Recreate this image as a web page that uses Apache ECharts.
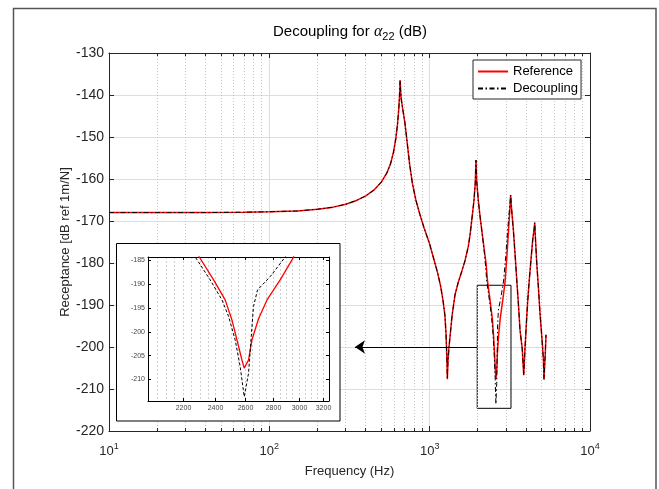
<!DOCTYPE html>
<html><head><meta charset="utf-8">
<script src="https://cdn.jsdelivr.net/npm/echarts@6/dist/echarts.min.js"></script>
<style>html,body{margin:0;padding:0;background:#fff}#c{width:659px;height:489px}</style>
</head><body><div id="c"></div>
<script>
// ---- data ----
const refFreq = [10,20,40,70,100,150,200,250,300,350,400,450,500,540,570,595,615,630,642,650,654,658,665,680,700,720,750,780,820,870,920,1000,1060,1120,1170,1210,1245,1265,1280,1289,1300,1320,1340,1380,1440,1510,1585,1660,1743,1790,1830,1860,1890,1925,1945,1965,2010,2060,2112,2180,2246,2295,2385,2460,2505,2539,2573,2589,2619,2643,2691,2752,2851,2950,3030,3100,3160,3200,3240,3327,3410,3493,3580,3659,3780,3861,3930,3990,4080,4182,4290,4392,4480,4522,4560,4654,4770,4878,5050,5120,5165,5262,5317];
const refDb = [-168.0,-168.0,-168.0,-167.9,-167.8,-167.6,-167.2,-166.7,-166.0,-165.1,-164.0,-162.6,-160.7,-158.6,-156.4,-153.6,-150.4,-147.0,-143.2,-139.5,-136.5,-138.5,-141.0,-143.5,-146.5,-150.5,-156.5,-161.0,-165.0,-168.5,-171.5,-175.5,-179.0,-182.3,-185.5,-188.8,-192.5,-197.0,-202.5,-207.7,-203.5,-200.0,-197.5,-192.5,-187.5,-184.5,-182.0,-179.5,-176.0,-173.0,-169.8,-167.5,-165.0,-161.0,-155.5,-160.5,-165.0,-168.8,-172.1,-176.3,-180.0,-184.3,-189.1,-193.3,-197.5,-201.7,-205.9,-207.6,-205.9,-201.7,-197.2,-193.3,-189.1,-184.6,-178.5,-172.5,-167.5,-163.8,-167.0,-172.1,-178.0,-184.0,-190.0,-195.9,-200.5,-206.7,-200.5,-195.9,-189.5,-184.0,-179.0,-174.5,-172.0,-170.4,-173.5,-180.0,-186.0,-192.0,-199.5,-203.0,-207.7,-201.5,-197.1];
const decFreq = [10,20,40,70,100,150,200,250,300,350,400,450,500,540,570,595,615,630,642,650,654,658,665,680,700,720,750,780,820,870,920,1000,1060,1120,1170,1210,1245,1265,1280,1289,1300,1320,1340,1380,1440,1510,1585,1660,1743,1790,1830,1860,1890,1925,1945,1965,2010,2060,2112,2180,2230,2270,2363,2439,2483,2527,2561,2589,2619,2654,2683,2776,2890,2980,3060,3140,3200,3240,3327,3410,3493,3580,3659,3780,3861,3930,3990,4080,4182,4290,4392,4480,4522,4560,4654,4770,4878,5050,5120,5165,5262,5317];
const decDb = [-168.0,-168.0,-168.0,-167.9,-167.8,-167.6,-167.2,-166.7,-166.0,-165.1,-164.0,-162.6,-160.7,-158.6,-156.4,-153.6,-150.4,-147.0,-143.2,-139.5,-136.5,-138.5,-141.0,-143.5,-146.5,-150.5,-156.5,-161.0,-165.0,-168.5,-171.5,-175.5,-179.0,-182.3,-185.5,-188.8,-192.5,-197.0,-202.5,-207.7,-203.5,-200.0,-197.5,-192.5,-187.5,-184.5,-182.0,-179.5,-176.0,-173.0,-169.8,-167.5,-165.0,-161.0,-155.5,-160.5,-165.0,-168.8,-172.1,-176.5,-180.5,-184.3,-189.1,-193.3,-196.8,-201.7,-207.3,-213.6,-208.7,-194.7,-191.2,-188.4,-184.3,-178.5,-172.5,-167.5,-163.8,-167.0,-172.1,-178.0,-184.0,-190.0,-195.9,-200.5,-206.7,-200.5,-195.9,-189.5,-184.0,-179.0,-174.5,-172.0,-170.4,-173.5,-180.0,-186.0,-192.0,-199.5,-203.0,-207.7,-201.5,-197.1];
const seriesNames = ['Reference','Decoupling'];
const minorTicks = [20,30,40,50,60,70,80,90,200,300,400,500,600,700,800,900,2000,3000,4000,5000,6000,7000,8000,9000];
const insetXTicks = [2200,2400,2600,2800,3000,3200];
const insetYTicks = [-210,-205,-200,-195,-190,-185];
const insetGridValues = [2050,2100,2150,2200,2250,2300,2350,2400,2450,2500,2550,2600,2650,2700,2750,2800,2850,2900,2950,3000,3050,3100,3150,3200];

// ---- axis ranges & annotations ----
const X_MIN = 10, X_MAX = 10000, Y_MIN = -220, Y_MAX = -130, Y_STEP = 10;
const INSET_X = [2000, 3250], INSET_Y = [-214.5, -184.3];
const zoomBoxX = [1980, 3215], zoomBoxY = [-214.6, -185.3];
const arrowFrom = [1980, -200], arrowTo = [342, -200];

const FONT = "'Liberation Sans', Arial, Helvetica, sans-serif";
const AX = '#262626';
const GRID_MAJOR = '#dedede';
const GRID_MINOR = '#c6c6c6';
const RED = '#ff0000';
const DASHDOT = [5, 2.5, 1.5, 2.5];

const pairs = (f, d) => f.map((v, i) => [v, d[i]]);
const refData = pairs(refFreq, refDb);
const decData = pairs(decFreq, decDb);
const crisp = v => Math.round(v - 0.5) + 0.5;

function minorRender(params, api) {
  const v = api.value(0);
  const t = api.coord([v, Y_MAX]);
  const b = api.coord([v, Y_MIN]);
  const x = crisp(t[0]);
  return {type: 'group', children: [
    {type: 'line', shape: {x1: x, y1: t[1], x2: x, y2: b[1]}, style: {stroke: GRID_MINOR, lineWidth: 1, lineDash: [1, 2]}},
    {type: 'line', shape: {x1: x, y1: b[1], x2: x, y2: b[1] - 3}, style: {stroke: AX, lineWidth: 1}},
    {type: 'line', shape: {x1: x, y1: t[1], x2: x, y2: t[1] + 3}, style: {stroke: AX, lineWidth: 1}}
  ]};
}
function insetGridRender(params, api) {
  const v = api.value(0);
  const t = api.coord([v, INSET_Y[1]]);
  const b = api.coord([v, INSET_Y[0]]);
  const x = crisp(t[0]);
  return {type: 'line', shape: {x1: x, y1: t[1], x2: x, y2: b[1]}, style: {stroke: '#d0d0d0', lineWidth: 1, lineDash: [2, 2]}};
}
function insetTickRender(params, api) {
  const v = api.value(0);
  const t = api.coord([v, INSET_Y[1]]);
  const b = api.coord([v, INSET_Y[0]]);
  const x = crisp(t[0]);
  return {type: 'group', children: [
    {type: 'line', shape: {x1: x, y1: b[1], x2: x, y2: b[1] - 3}, style: {stroke: '#000', lineWidth: 1}},
    {type: 'line', shape: {x1: x, y1: t[1], x2: x, y2: t[1] + 3}, style: {stroke: '#000', lineWidth: 1}},
    {type: 'text', style: {text: String(v), x: x, y: b[1] + 4, align: 'center', verticalAlign: 'top', fontSize: 7, fontFamily: FONT, fill: '#444'}}
  ]};
}

const chart = echarts.init(document.getElementById('c'), null, {renderer: 'canvas', width: 659, height: 489});
const option = {
  animation: false,
  backgroundColor: '#fff',
  textStyle: {fontFamily: FONT},
  graphic: {elements: [
    {type: 'rect', silent: true, z: 0, shape: {x: 13.5, y: 8.5, width: 642.5, height: 500}, style: {fill: 'none', stroke: '#555', lineWidth: 1.5}},
    {type: 'rect', silent: true, z: 3, shape: {x: 116.5, y: 243.5, width: 223.5, height: 177.5}, style: {fill: '#fff', stroke: '#000', lineWidth: 1}},
    {type: 'text', silent: true, z: 10, x: 350, y: 32, style: {
      text: '{n|Decoupling for }{a|α}{s|22}{n| (dB)}', align: 'center', verticalAlign: 'middle',
      rich: {
        n: {fontSize: 15, fontFamily: FONT, lineHeight: 20, fill: '#000'},
        a: {fontSize: 16, fontFamily: "'Liberation Serif', 'DejaVu Serif', serif", fontStyle: 'italic', lineHeight: 20, fill: '#000'},
        s: {fontSize: 11, fontFamily: FONT, lineHeight: 11, verticalAlign: 'bottom', fill: '#000'}
      }}}
  ]},
  legend: {
    data: seriesNames, orient: 'vertical', left: 473, top: 60, padding: [5, 3, 4, 4], itemGap: 4,
    itemWidth: 30, itemHeight: 14, backgroundColor: '#fff', borderColor: AX, borderWidth: 1, borderRadius: 0,
    itemStyle: {opacity: 0},
    textStyle: {fontSize: 13, color: '#000', fontFamily: FONT}, selectedMode: false, z: 10
  },
  grid: [
    {left: 109, top: 53, width: 481, height: 378, outerBoundsMode: 'none'},
    {left: 148, top: 257, width: 181, height: 144, outerBoundsMode: 'none', z: 4}
  ],
  xAxis: [
    {type: 'log', logBase: 10, gridIndex: 0, min: X_MIN, max: X_MAX, position: 'bottom',
     axisLine: {show: true, onZero: false, lineStyle: {color: AX, width: 1}},
     axisTick: {show: true, inside: true, length: 5, lineStyle: {color: AX}},
     axisLabel: {margin: 11, color: AX, formatter: v => '{b|10}{p|' + Math.round(Math.log10(v)) + '}',
       rich: {b: {fontSize: 13, lineHeight: 18, color: AX, fontFamily: FONT}, p: {fontSize: 9, lineHeight: 9, verticalAlign: 'top', color: AX, fontFamily: FONT}}},
     splitLine: {show: true, lineStyle: {color: GRID_MAJOR, width: 1}},
     name: 'Frequency (Hz)', nameLocation: 'middle', nameGap: 34, nameTextStyle: {fontSize: 13, color: AX, fontFamily: FONT}},
    {type: 'log', logBase: 10, gridIndex: 0, min: X_MIN, max: X_MAX, position: 'top',
     axisLine: {show: true, onZero: false, lineStyle: {color: AX, width: 1}},
     axisTick: {show: true, inside: true, length: 5, lineStyle: {color: AX}},
     axisLabel: {show: false}, splitLine: {show: false}},
    {type: 'log', logBase: 10, gridIndex: 1, min: INSET_X[0], max: INSET_X[1], position: 'bottom', z: 4,
     axisLine: {show: true, onZero: false, lineStyle: {color: '#000', width: 1}},
     axisTick: {show: false}, axisLabel: {show: false}, splitLine: {show: false}},
    {type: 'log', logBase: 10, gridIndex: 1, min: INSET_X[0], max: INSET_X[1], position: 'top', z: 4,
     axisLine: {show: true, onZero: false, lineStyle: {color: '#000', width: 1}},
     axisTick: {show: false}, axisLabel: {show: false}, splitLine: {show: false}}
  ],
  yAxis: [
    {type: 'value', gridIndex: 0, min: Y_MIN, max: Y_MAX, interval: Y_STEP, position: 'left',
     axisLine: {show: true, onZero: false, lineStyle: {color: AX, width: 1}},
     axisTick: {show: true, inside: true, length: 5, lineStyle: {color: AX}},
     axisLabel: {margin: 5, fontSize: 14, color: AX, fontFamily: FONT},
     splitLine: {show: true, lineStyle: {color: GRID_MAJOR, width: 1}},
     name: 'Receptance [dB ref 1m/N]', nameLocation: 'middle', nameGap: 37, nameMoveOverlap: false,
     nameTextStyle: {fontSize: 13, color: AX, fontFamily: FONT}},
    {type: 'value', gridIndex: 0, min: Y_MIN, max: Y_MAX, interval: Y_STEP, position: 'right',
     axisLine: {show: true, onZero: false, lineStyle: {color: AX, width: 1}},
     axisTick: {show: true, inside: true, length: 5, lineStyle: {color: AX}},
     axisLabel: {show: false}, splitLine: {show: false}},
    {type: 'value', gridIndex: 1, min: INSET_Y[0], max: INSET_Y[1], position: 'left', z: 4,
     axisLine: {show: true, onZero: false, lineStyle: {color: '#000', width: 1}},
     axisTick: {show: true, inside: true, length: 3, lineStyle: {color: '#000'}, customValues: insetYTicks},
     axisLabel: {margin: 3, fontSize: 7, color: '#444', fontFamily: FONT, customValues: insetYTicks},
     splitLine: {show: false}},
    {type: 'value', gridIndex: 1, min: INSET_Y[0], max: INSET_Y[1], position: 'right', z: 4,
     axisLine: {show: true, onZero: false, lineStyle: {color: '#000', width: 1}},
     axisTick: {show: true, inside: true, length: 3, lineStyle: {color: '#000'}, customValues: insetYTicks},
     axisLabel: {show: false}, splitLine: {show: false}}
  ],
  series: [
    {type: 'custom', name: 'minorGrid', xAxisIndex: 0, yAxisIndex: 0, z: 1, silent: true,
     data: minorTicks.map(v => [v]), renderItem: minorRender},
    {type: 'line', name: seriesNames[0], xAxisIndex: 0, yAxisIndex: 0, z: 2, data: refData,
     symbol: 'none', showSymbol: false, lineStyle: {color: RED, width: 1.5}, itemStyle: {color: RED},
     markArea: {silent: true, itemStyle: {color: 'rgba(0,0,0,0)', borderColor: '#000', borderWidth: 1}, label: {show: false},
       data: [[{coord: [zoomBoxX[0], zoomBoxY[1]]}, {coord: [zoomBoxX[1], zoomBoxY[0]]}]]},
     markLine: {silent: true, symbol: ['none', 'arrow'], symbolSize: 10, label: {show: false},
       lineStyle: {color: '#000', width: 1, type: 'solid'}, itemStyle: {color: '#000'},
       data: [[{coord: arrowFrom}, {coord: arrowTo}]]}},
    {type: 'line', name: seriesNames[1], xAxisIndex: 0, yAxisIndex: 0, z: 2, data: decData,
     symbol: 'none', showSymbol: false, lineStyle: {color: '#000', width: 1, type: DASHDOT}, itemStyle: {color: '#000'}},
    {type: 'custom', name: 'insetGrid', xAxisIndex: 2, yAxisIndex: 2, z: 4, silent: true,
     data: insetGridValues.map(v => [v]), renderItem: insetGridRender},
    {type: 'custom', name: 'insetTicks', xAxisIndex: 2, yAxisIndex: 2, z: 6, silent: true,
     data: insetXTicks.map(v => [v]), renderItem: insetTickRender},
    {type: 'line', name: seriesNames[0], xAxisIndex: 2, yAxisIndex: 2, z: 5, data: refData, clip: true,
     symbol: 'none', showSymbol: false, lineStyle: {color: RED, width: 1.3}, itemStyle: {color: RED}},
    {type: 'line', name: seriesNames[1], xAxisIndex: 2, yAxisIndex: 2, z: 5, data: decData, clip: true,
     symbol: 'none', showSymbol: false, lineStyle: {color: '#000', width: 1, type: [3, 2]}, itemStyle: {color: '#000'}}
  ]
};
chart.setOption(option);
</script>
</body></html>
